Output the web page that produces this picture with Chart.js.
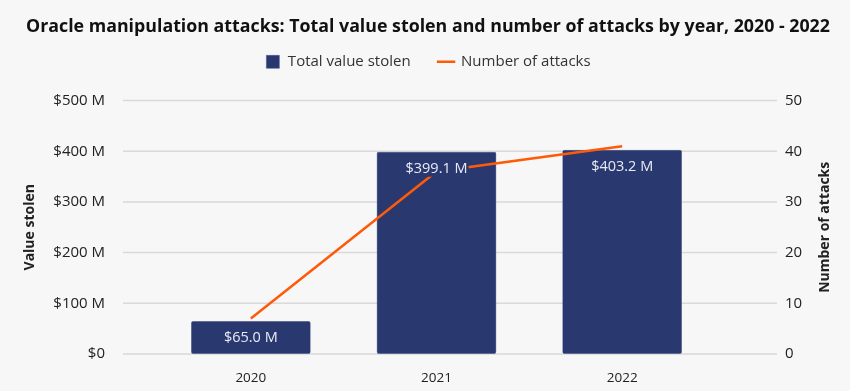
<!DOCTYPE html>
<html>
<head>
<meta charset="utf-8">
<script src="https://cdn.jsdelivr.net/npm/chart.js@4"></script>
<style>
  html, body { margin: 0; padding: 0; background: #f7f7f7; }
  #wrap { width: 850px; height: 391px; position: relative; }
</style>
</head>
<body>
<div id="wrap"><canvas id="oracle_chart"></canvas></div>
<script>
// data
var years = ["2020", "2021", "2022"];
var valueStolen = [65.0, 399.1, 403.2];   // $ millions
var attackCount = [7, 36, 41];
var valueLabels = ["$65.0 M", "$399.1 M", "$403.2 M"];
var valueTicks = [0, 100, 200, 300, 400, 500];

var barColor = "#2a3870";

Chart.defaults.font.family = "'Open Sans', Lato, sans-serif";
Chart.defaults.color = "#222222";

// horizontal grid lines run wider than the bar area
var wideGrid = {
    id: "wideGrid",
    beforeDatasetsDraw: function (chart) {
        var ctx = chart.ctx;
        var area = chart.chartArea;
        var yScale = chart.scales.yValue;
        ctx.save();
        ctx.strokeStyle = "#d9d9d9";
        ctx.lineWidth = 1.5;
        valueTicks.forEach(function (t) {
            var y = yScale.getPixelForValue(t);
            ctx.beginPath();
            ctx.moveTo(area.left - 35, y);
            ctx.lineTo(area.right + 62, y);
            ctx.stroke();
        });
        ctx.restore();
    }
};

// labels inside the bars, on a bar coloured box so the line stops at them
var barLabels = {
    id: "barLabels",
    afterDatasetsDraw: function (chart) {
        var ctx = chart.ctx;
        var meta = chart.getDatasetMeta(1);
        ctx.save();
        ctx.font = "14.5px 'Open Sans', sans-serif";
        ctx.textAlign = "center";
        ctx.textBaseline = "middle";
        meta.data.forEach(function (bar, i) {
            var y = i == 0 ? (bar.y + bar.base) / 2 : bar.y + 17;
            var w = ctx.measureText(valueLabels[i]).width;
            ctx.fillStyle = barColor;
            ctx.fillRect(bar.x - w / 2 - 1, y - 8, w + 2, 16);
            ctx.fillStyle = "#e8ebf5";
            ctx.fillText(valueLabels[i], bar.x, y);
        });
        ctx.restore();
    }
};

// right axis title reads bottom to top like the left one
var rightTitle = {
    id: "rightTitle",
    afterDraw: function (chart) {
        var ctx = chart.ctx;
        var s = chart.scales.yCount;
        var area = chart.chartArea;
        ctx.save();
        ctx.translate(s.right - 13, (area.top + area.bottom) / 2);
        ctx.rotate(-Math.PI / 2);
        ctx.font = "bold 14px 'Open Sans', sans-serif";
        ctx.fillStyle = "#222222";
        ctx.textAlign = "center";
        ctx.textBaseline = "middle";
        ctx.fillText("Number of attacks", 0, 0);
        ctx.restore();
    }
};

var ctx = document.getElementById("oracle_chart");
var oracleChart = new Chart(ctx, {
    data: {
        labels: years,
        datasets: [
            {
                type: "line",
                label: "Number of attacks",
                data: attackCount,
                yAxisID: "yCount",
                borderColor: "#ff5a0a",
                backgroundColor: "#ff5a0a",
                borderWidth: 2.5,
                pointRadius: 0,
                pointStyle: "line",
                order: 0,
            },
            {
                type: "bar",
                label: "Total value stolen",
                data: valueStolen,
                yAxisID: "yValue",
                backgroundColor: barColor,
                borderColor: "#4a5688",
                borderWidth: 0.5,
                borderRadius: 2,
                borderSkipped: false,
                categoryPercentage: 1,
                barPercentage: 0.645,
                pointStyle: "rect",
                order: 1,
            },
        ],
    },
    options: {
        responsive: true,
        maintainAspectRatio: false,
        animation: false,
        layout: { padding: { top: 8, right: 12, bottom: 5, left: 18 } },
        plugins: {
            title: {
                display: true,
                text: "Oracle manipulation attacks: Total value stolen and number of attacks by year, 2020 - 2022",
                font: { size: 17.8, weight: "bold" },
                color: "#111111",
                padding: { top: 8, bottom: -11 },
            },
            legend: {
                reverse: true,
                labels: {
                    usePointStyle: true,
                    boxHeight: 13,
                    padding: 28,
                    font: { size: 15 },
                    color: "#333333",
                },
            },
            // empty spacer between the legend and the plot
            subtitle: {
                display: true,
                text: " ",
                weight: 500,
                font: { size: 1 },
                padding: { top: 0, bottom: 20 },
            },
            tooltip: { enabled: false },
        },
        scales: {
            x: {
                grid: { display: false, drawTicks: false },
                border: { display: false },
                ticks: { font: { size: 13.5 }, padding: 16 },
                afterFit: function (s) { s.height = 32; },
            },
            yValue: {
                position: "left",
                min: 0,
                max: 500,
                ticks: {
                    stepSize: 100,
                    font: { size: 15 },
                    padding: 8,
                    callback: function (v) { return v == 0 ? "$0" : "$" + v + " M"; },
                },
                grid: { display: false, drawTicks: true, tickLength: 45 },
                border: { display: false },
                title: { display: true, text: "Value stolen", font: { size: 14, weight: "bold" } },
                afterFit: function (s) { s.width = 140; },
            },
            yCount: {
                position: "right",
                min: 0,
                max: 50,
                ticks: { stepSize: 10, font: { size: 15 }, padding: 8 },
                grid: { display: false, drawTicks: true, tickLength: 62 },
                border: { display: false },
                afterFit: function (s) { s.width = 123; },
            },
        },
    },
    plugins: [wideGrid, barLabels, rightTitle],
});
</script>
</body>
</html>
